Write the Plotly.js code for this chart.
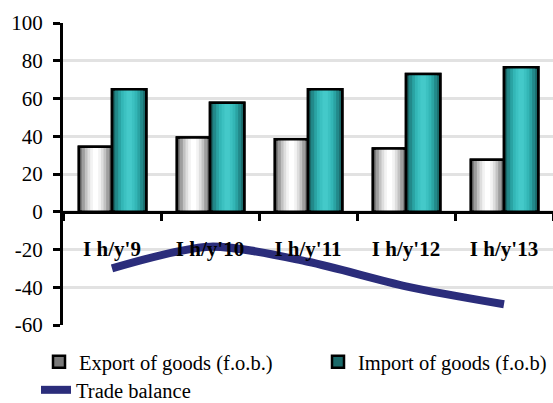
<!DOCTYPE html>
<html>
<head>
<meta charset="utf-8">
<script src="https://cdn.plot.ly/plotly-3.0.1.min.js"></script>
<style>html,body{margin:0;padding:0;background:#fff;}#chart{width:553px;height:403px;}</style>
</head>
<body>
<div id="chart"></div>
<script>
const categories = ["I h/y'9", "I h/y'10", "I h/y'11", "I h/y'12", "I h/y'13"];
const exportValues = [34.5, 39.3, 38.4, 33.5, 27.5];
const importValues = [64.9, 57.8, 64.9, 73.0, 76.6];
const tradeBalance = [-30.0, -18.5, -26.5, -39.5, -49.0];
const yTickVals = [100, 80, 60, 40, 20, 0, -20, -40, -60];
const yTickText = ["100", "80", "60", "40", "20", "0", "-20", "-40", "-60"];

const SERIF = "'Liberation Serif', 'Times New Roman', serif";
const layerFractions = [1, 0.82, 0.64, 0.48, 0.32, 0.16];
const exportShades = ['#7a7a7a', '#9e9e9e', '#c2c2c2', '#dedede', '#f3f3f3', '#ffffff'];
const importShades = ['#1b6a6a', '#22898a', '#2aa3a3', '#33b6b6', '#3cc1c1', '#44c9c9'];

function gradientBars(values, name, center, width, shades, legendId) {
  const out = [];
  layerFractions.forEach((f, i) => {
    const w = width * f;
    out.push({
      type: 'bar', x: categories, y: values, name: name,
      width: w, offset: center - w / 2,
      marker: { color: shades[i], line: { color: i === 0 ? '#000' : 'rgba(0,0,0,0)', width: i === 0 ? 2.5 : 0 } },
      showlegend: i === 0, legend: legendId, legendgroup: name, hoverinfo: 'skip'
    });
  });
  out.push({
    type: 'bar', x: categories, y: values, name: name,
    width: width, offset: center - width / 2,
    marker: { color: 'rgba(0,0,0,0)', line: { color: '#000', width: 2.5 } },
    showlegend: false, legend: legendId, legendgroup: name, hoverinfo: 'skip'
  });
  return out;
}

const traces = [].concat(
  gradientBars(exportValues, 'Export of goods (f.o.b.)', -0.168, 0.34, exportShades, 'legend'),
  gradientBars(importValues, 'Import of goods (f.o.b)', 0.175, 0.35, importShades, 'legend2'),
  [{
    type: 'scatter', mode: 'lines', x: categories, y: tradeBalance, name: 'Trade balance',
    legend: 'legend3',
    line: { color: '#2b2d7b', width: 8, shape: 'spline', smoothing: 0.8 }
  }]
);

const zeroFrac = 60 / 160;
const legendFont = { family: SERIF, size: 20.5, color: '#000' };
function legendAt(xPx, yPx) {
  return {
    orientation: 'h', xref: 'container', yref: 'container',
    x: xPx / 553, xanchor: 'left', y: 1 - yPx / 403, yanchor: 'top',
    font: legendFont, bgcolor: 'rgba(0,0,0,0)', borderwidth: 0
  };
}

const layout = {
  width: 553, height: 403,
  margin: { l: 63, r: 0, t: 23, b: 78 },
  paper_bgcolor: '#fff', plot_bgcolor: '#fff',
  barmode: 'overlay',
  showlegend: true,
  font: { family: SERIF, size: 20, color: '#000' },
  xaxis: {
    type: 'category', range: [-0.5, 4.5], anchor: 'free', position: zeroFrac,
    showline: true, linecolor: '#000', linewidth: 3,
    ticks: 'outside', tickson: 'boundaries', ticklen: 7, tickwidth: 3, tickcolor: '#000',
    showgrid: false, zeroline: false,
    showticklabels: true, ticklabelstandoff: 17,
    tickfont: { family: SERIF, size: 21, color: '#000', weight: 'bold' }
  },
  yaxis: {
    range: [-60, 100], tickvals: yTickVals, ticktext: yTickText,
    showline: true, linecolor: '#000', linewidth: 3,
    ticks: 'outside', ticklen: 7, tickwidth: 3, tickcolor: '#000',
    showgrid: true, gridcolor: '#e2e2e2', gridwidth: 3,
    zeroline: false, ticklabelstandoff: 6,
    tickfont: { family: SERIF, size: 21, color: '#000' }
  },
  legend: legendAt(39, 342),
  legend2: legendAt(318, 342),
  legend3: legendAt(36, 370)
};

Plotly.newPlot('chart', traces, layout, { displayModeBar: false, staticPlot: true });
</script>
</body>
</html>
